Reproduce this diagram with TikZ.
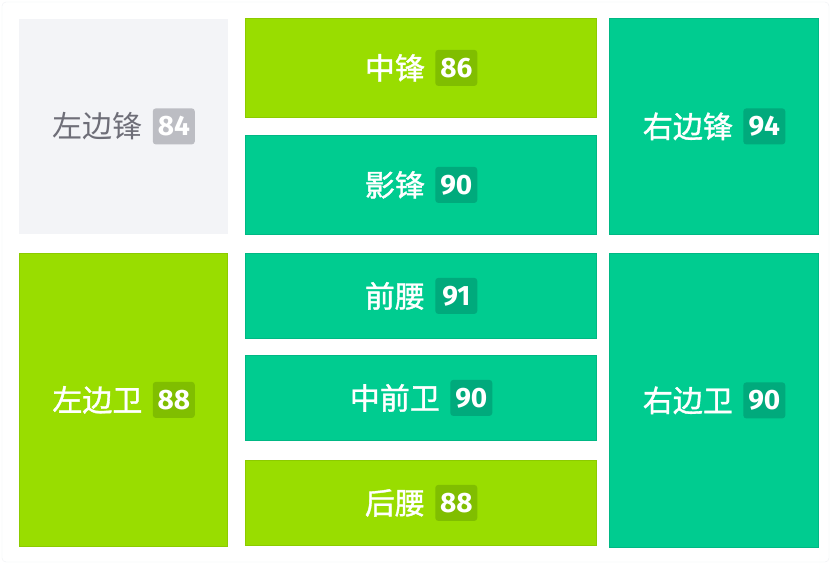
\documentclass[tikz,border=0pt]{standalone}
\usepackage{fontspec}
\setmainfont{Noto Sans CJK SC}
\newfontfamily\thickfont[FakeBold=1.2]{Noto Sans CJK SC}
\newfontfamily\numfont{Fira Sans}
\usepackage{xcolor}
\usetikzlibrary{positioning}

\definecolor{limefill}{HTML}{99DD00}
\definecolor{limeline}{HTML}{8CCB00}
\definecolor{limetag}{HTML}{80BE00}
\definecolor{tealfill}{HTML}{00CC90}
\definecolor{tealline}{HTML}{00B884}
\definecolor{tealtag}{HTML}{00AA7C}
\definecolor{greyfill}{HTML}{F3F4F7}
\definecolor{greytag}{HTML}{BCBDC3}
\definecolor{greytext}{HTML}{6E6E78}
\definecolor{frameline}{HTML}{EEF0F3}

\tikzset{
    cell/.style={anchor=north west, inner sep=0, line width=0.8pt},
    limecell/.style={cell, fill=limefill, draw=limeline},
    tealcell/.style={cell, fill=tealfill, draw=tealline},
    greycell/.style={cell, fill=greyfill, draw=greyfill},
    postxt/.style={font=\thickfont\fontsize{30}{30}\selectfont, text=white, inner sep=0},
    scorebox/.style={font=\numfont\bfseries\fontsize{28}{28}\selectfont, text=white,
        minimum width=42pt, minimum height=36pt, inner sep=0, rounded corners=3pt}
}

\begin{document}
\begin{tikzpicture}[x=1pt, y=-1pt]
    % Canvas
    \useasboundingbox (0,0) rectangle (832,564);
    \fill[white] (0,0) rectangle (832,564);
    \draw[frameline, rounded corners=4pt] (2,2) rectangle (829,562);

    % Left column
    \node[greycell, minimum width=208pt, minimum height=214pt] (lw) at (19,19) {};
    \node[postxt, text=greytext, font=\fontsize{30}{30}\selectfont] (lw-n) at ([xshift=-26pt]lw.center) {左边锋};
    \node[scorebox, fill=greytag, right=10pt of lw-n] (lw-s) {84};

    \node[limecell, minimum width=208pt, minimum height=293pt] (lb) at (19,253) {};
    \node[postxt] (lb-n) at ([xshift=-26pt]lb.center) {左边卫};
    \node[scorebox, fill=limetag, right=10pt of lb-n] (lb-s) {88};

    % Middle column
    \node[limecell, minimum width=351pt, minimum height=99pt] (cf) at (245,18) {};
    \node[postxt] (cf-n) at ([xshift=-26pt]cf.center) {中锋};
    \node[scorebox, fill=limetag, right=10pt of cf-n] (cf-s) {86};

    \node[tealcell, minimum width=351pt, minimum height=99pt] (ss) at (245,135) {};
    \node[postxt] (ss-n) at ([xshift=-26pt]ss.center) {影锋};
    \node[scorebox, fill=tealtag, right=10pt of ss-n] (ss-s) {90};

    \node[tealcell, minimum width=351pt, minimum height=85pt] (am) at (245,253) {};
    \node[postxt] (am-n) at ([xshift=-26pt]am.center) {前腰};
    \node[scorebox, fill=tealtag, right=10pt of am-n] (am-s) {91};

    \node[tealcell, minimum width=351pt, minimum height=85pt] (cm) at (245,355) {};
    \node[postxt] (cm-n) at ([xshift=-26pt]cm.center) {中前卫};
    \node[scorebox, fill=tealtag, right=10pt of cm-n] (cm-s) {90};

    \node[limecell, minimum width=351pt, minimum height=85pt] (dm) at (245,460) {};
    \node[postxt] (dm-n) at ([xshift=-26pt]dm.center) {后腰};
    \node[scorebox, fill=limetag, right=10pt of dm-n] (dm-s) {88};

    % Right column
    \node[tealcell, minimum width=209pt, minimum height=216pt] (rw) at (609,18) {};
    \node[postxt] (rw-n) at ([xshift=-26pt]rw.center) {右边锋};
    \node[scorebox, fill=tealtag, right=10pt of rw-n] (rw-s) {94};

    \node[tealcell, minimum width=209pt, minimum height=294pt] (rb) at (609,253) {};
    \node[postxt] (rb-n) at ([xshift=-26pt]rb.center) {右边卫};
    \node[scorebox, fill=tealtag, right=10pt of rb-n] (rb-s) {90};
\end{tikzpicture}
\end{document}
